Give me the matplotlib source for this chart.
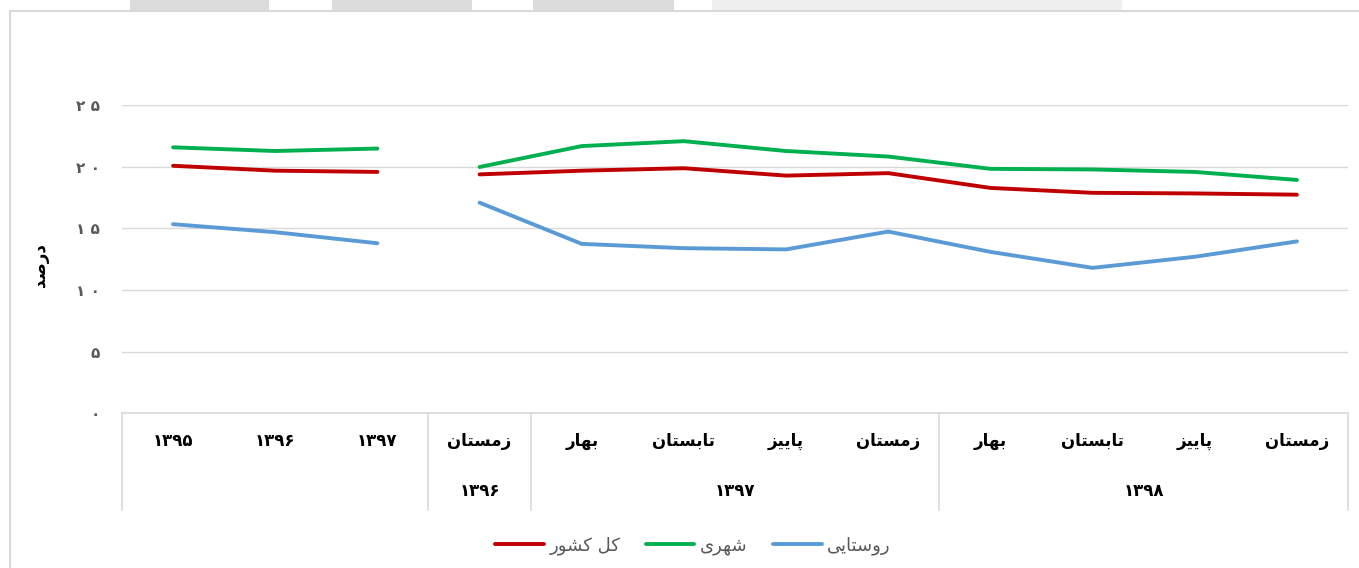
import numpy as np
import matplotlib
matplotlib.use("Agg")
import matplotlib.pyplot as plt
from matplotlib import font_manager, ft2font
from matplotlib.font_manager import FontProperties
from matplotlib.lines import Line2D
from matplotlib.patches import Rectangle
import matplotlib.transforms as mtransforms

# ---------------- data ----------------
row1_labels = ['۱۳۹۵', '۱۳۹۶', '۱۳۹۷', 'زمستان', 'بهار', 'تابستان', 'پاییز',
               'زمستان', 'بهار', 'تابستان', 'پاییز', 'زمستان']
group_labels = ['۱۳۹۶', '۱۳۹۷', '۱۳۹۸']
group_start = [3, 4, 8]
group_end = [3, 7, 11]
kol_keshvar = [20.1, 19.7, 19.6, 19.4, 19.7, 19.9, 19.3, 19.5, 18.3, 17.9, 17.85, 17.75]
shahri = [21.6, 21.3, 21.5, 20.0, 21.7, 22.1, 21.3, 20.85, 19.85, 19.8, 19.6, 18.95]
roustaei = [15.35, 14.7, 13.8, 17.1, 13.75, 13.4, 13.3, 14.75, 13.1, 11.8, 12.7, 13.95]
series_names = ['کل کشور', 'شهری', 'روستایی']
y_ticks = [0, 5, 10, 15, 20, 25]
y_label = 'درصد'

# ---------------- simple Persian shaping ----------------
FORMS = {
    'ا': (0xFE8D, 0xFE8E, None, None),
    'ب': (0xFE8F, 0xFE90, 0xFE91, 0xFE92),
    'ت': (0xFE95, 0xFE96, 0xFE97, 0xFE98),
    'د': (0xFEA9, 0xFEAA, None, None),
    'ر': (0xFEAD, 0xFEAE, None, None),
    'ز': (0xFEAF, 0xFEB0, None, None),
    'س': (0xFEB1, 0xFEB2, 0xFEB3, 0xFEB4),
    'ش': (0xFEB5, 0xFEB6, 0xFEB7, 0xFEB8),
    'ص': (0xFEB9, 0xFEBA, 0xFEBB, 0xFEBC),
    'ل': (0xFEDD, 0xFEDE, 0xFEDF, 0xFEE0),
    'م': (0xFEE1, 0xFEE2, 0xFEE3, 0xFEE4),
    'ن': (0xFEE5, 0xFEE6, 0xFEE7, 0xFEE8),
    'ه': (0xFEE9, 0xFEEA, 0xFEEB, 0xFEEC),
    'و': (0xFEED, 0xFEEE, None, None),
    'پ': (0xFB56, 0xFB57, 0xFB58, 0xFB59),
    'ک': (0xFB8E, 0xFB8F, 0xFB90, 0xFB91),
    'ی': (0xFBFC, 0xFBFD, 0xFBFE, 0xFBFF),
}
FALLBACK = {
    'ی': (0xFEEF, 0xFEF0, 0xFEF3, 0xFEF4),
    'ک': (0xFED9, 0xFEDA, 0xFEDB, 0xFEDC),
}
RIGHT_ONLY = set('ادذرزژوآ')

def _charmap(weight):
    try:
        path = font_manager.findfont(FontProperties(family='DejaVu Sans', weight=weight))
        return set(ft2font.FT2Font(path).get_charmap().keys())
    except Exception:
        return set()

CMAP = _charmap('bold') & _charmap('normal')

def shape(s):
    if not any(c in FORMS for c in s):
        return s
    out = []
    for i, c in enumerate(s):
        if c not in FORMS:
            out.append(c)
            continue
        prev = s[i - 1] if i > 0 else None
        nxt = s[i + 1] if i + 1 < len(s) else None
        jp = prev in FORMS and prev not in RIGHT_ONLY
        jn = nxt in FORMS and c not in RIGHT_ONLY
        idx = 3 if (jp and jn) else 1 if jp else 2 if jn else 0
        forms = FORMS[c]
        cp = forms[idx]
        if cp is None:
            cp = forms[1] if jp else forms[0]
        if CMAP and cp not in CMAP and c in FALLBACK:
            cp = FALLBACK[c][idx]
        out.append(chr(cp))
    return ''.join(reversed(out))

# ---------------- figure ----------------
W, H = 1359, 568
fig = plt.figure(figsize=(W / 100, H / 100), dpi=100)
plt.rcParams['font.family'] = ['DejaVu Sans']

# screenshot frame bits
for x0, x1, col in [(130, 269, '#DCDCDC'), (332, 472, '#DCDCDC'),
                    (533, 674, '#DCDCDC'), (712, 1122, '#F0F0F0')]:
    fig.patches.append(Rectangle((x0 / W, 1 - 10 / H), (x1 - x0) / W, 10 / H,
                                 transform=fig.transFigure, color=col, lw=0))
fig.lines.append(Line2D([10 / W, 1], [1 - 11 / H, 1 - 11 / H], transform=fig.transFigure,
                        color='#D9D9D9', lw=1.5))
fig.lines.append(Line2D([10 / W, 10 / W], [0, 1 - 11 / H], transform=fig.transFigure,
                        color='#D9D9D9', lw=1.5))

left, right = 122 / W, 1348 / W
top, bottom = 1 - 105.5 / H, 1 - 413 / H
ax = fig.add_axes([left, bottom, right - left, top - bottom])
ax.set_xlim(-0.5, 11.5)
ax.set_ylim(0, 25)

x = np.arange(len(row1_labels))
colors = ['#C00000', '#00B050', '#5B9BD5']
lw = 2.8
for vals, col in zip([kol_keshvar, shahri, roustaei], colors):
    v = np.array(vals)
    ax.plot(x[:3], v[:3], color=col, lw=lw, solid_capstyle='round', solid_joinstyle='round')
    ax.plot(x[3:], v[3:], color=col, lw=lw, solid_capstyle='round', solid_joinstyle='round')

ax.yaxis.grid(True, color='#D9D9D9', lw=1)
ax.set_axisbelow(True)
ax.set_yticks(y_ticks)
fa_digits = str.maketrans('0123456789', '۰۱۲۳۴۵۶۷۸۹')
ax.set_yticklabels([' '.join(str(t).translate(fa_digits)) for t in y_ticks],
                   color='#595959', fontsize=11, fontweight='bold')
ax.tick_params(axis='y', length=0, pad=16)
ax.set_xticks([])
for sp in ['top', 'right', 'left']:
    ax.spines[sp].set_visible(False)
ax.spines['bottom'].set_color('#D9D9D9')
ax.spines['bottom'].set_linewidth(1.2)

# category axis
trans = mtransforms.blended_transform_factory(ax.transData, ax.transAxes)
sep_bottom = -(510 - 413) / 308
for sx in [-0.5, 2.5, 3.5, 7.5, 11.5]:
    ax.plot([sx, sx], [0, sep_bottom], transform=trans, color='#D9D9D9', lw=1.2, clip_on=False)
row1_y = -(441 - 413) / 308
row2_y = -(491 - 413) / 308
for xi, lab in zip(x, row1_labels):
    ax.text(xi, row1_y, shape(lab), transform=trans, ha='center', va='center',
            fontsize=12, fontweight='bold', color='#000000')
for lab, s, e in zip(group_labels, group_start, group_end):
    ax.text((s + e) / 2, row2_y, shape(lab), transform=trans, ha='center', va='center',
            fontsize=12, fontweight='bold', color='#000000')

# y label
fig.text(40 / W, 1 - 265 / H, shape(y_label), rotation=90, ha='center', va='center',
         fontsize=12, fontweight='bold', color='#000000')

# legend
handles = [Line2D([0], [0], color=c, lw=lw, solid_capstyle='round') for c in colors]
fig.legend(handles, [shape(n) for n in series_names], loc='center',
           bbox_to_anchor=(693 / W, 1 - 546 / H), ncol=3, frameon=False,
           fontsize=13, labelcolor='#595959', handlelength=2.7, handletextpad=0.3,
           columnspacing=1.4)

fig.savefig('out.png', dpi=100)
